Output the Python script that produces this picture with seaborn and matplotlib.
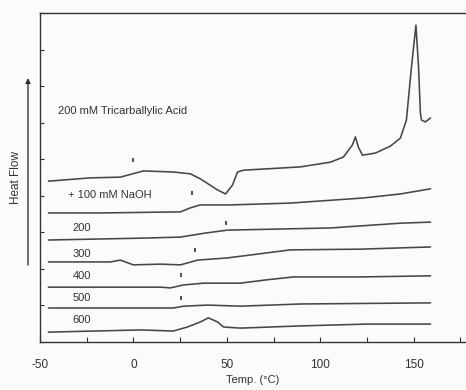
import numpy as np
import pandas as pd
import matplotlib
matplotlib.use("Agg")
import matplotlib.pyplot as plt
import seaborn as sns

# DSC thermograms: temperature (deg C) and stacked heat flow (arbitrary units)
t_acid = [-45.5, -23, -7, 5.4, 21.4, 30.5, 35.9, 45, 49.3, 53, 55.7, 58.9, 89.4,
          105.5, 112.4, 117.2, 118.8, 120.4, 122.6, 129.6, 137.6, 142.9, 146.1,
          148.8, 151.2, 152.6, 153.6, 154.2, 156.3, 159.0]
hf_acid = [4.40, 4.49, 4.51, 4.68, 4.65, 4.60, 4.46, 4.16, 4.05, 4.29, 4.65, 4.70, 4.79,
           4.92, 5.06, 5.39, 5.61, 5.33, 5.11, 5.17, 5.36, 5.58, 6.07,
           7.52, 8.67, 7.52, 6.26, 6.07, 6.02, 6.13]

t_100 = [-45.5, -17.7, 25.2, 30.5, 35.9, 51.9, 84.0, 123.1, 142.9, 159.0]
hf_100 = [3.53, 3.53, 3.56, 3.67, 3.75, 3.75, 3.80, 3.94, 4.05, 4.19]

t_200 = [-45.5, 3.7, 25.2, 38.5, 50.3, 105.5, 142.9, 159.0]
hf_200 = [2.79, 2.84, 2.87, 2.98, 3.06, 3.12, 3.25, 3.28]

t_300 = [-45.5, -12.3, -7.0, 0, 14.5, 25.2, 34.3, 50.3, 62.6, 84.0, 121.5, 159.0]
hf_300 = [2.19, 2.19, 2.24, 2.11, 2.13, 2.11, 2.24, 2.30, 2.38, 2.52, 2.54, 2.60]

t_400 = [-45.5, 14.5, 19.8, 26.8, 37.5, 57.3, 71.2, 85.7, 121.5, 159.0]
hf_400 = [1.50, 1.50, 1.48, 1.56, 1.61, 1.61, 1.70, 1.78, 1.78, 1.81]

t_500 = [-45.5, 21.4, 26.8, 39.6, 57.3, 89.4, 159.0]
hf_500 = [0.93, 0.93, 0.98, 1.01, 0.98, 1.04, 1.07]

t_600 = [-45.5, 3.7, 21.4, 28.9, 35.9, 40.1, 45.0, 48.2, 57.3, 89.4, 124.7, 159.0]
hf_600 = [0.27, 0.33, 0.30, 0.41, 0.55, 0.66, 0.55, 0.41, 0.38, 0.44, 0.49, 0.49]

# Glass-transition marks above each trace
tg_t = [0, 31.6, 49.8, 33.2, 25.7, 25.7]
tg_hf = [4.98, 4.08, 3.25, 2.52, 1.83, 1.20]

# Trace labels
label_text = ["200 mM Tricarballylic Acid", "+ 100 mM NaOH", "200", "300", "400", "500", "600"]
label_t = [-40.1, -34.8, -32.7, -32.7, -32.7, -32.7, -32.7]
label_hf = [6.32, 4.02, 3.12, 2.41, 1.81, 1.20, 0.60]

x_major = [-50, 0, 50, 100, 150]
x_minor = [-25, 25, 75, 125, 175]

sns.set_theme(style="ticks")
plt.rcParams["font.family"] = ["Liberation Sans", "DejaVu Sans"]
plt.rcParams["axes.unicode_minus"] = False

ink = "#333333"
line_c = "#474747"

fig = plt.figure(figsize=(4.66, 3.90), dpi=100, facecolor="#fbfbfa")
ax = fig.add_axes([40 / 466, 48 / 390, 426 / 466, 329 / 390])
ax.set_facecolor("#fbfbfa")

series = [(t_acid, hf_acid), (t_100, hf_100), (t_200, hf_200), (t_300, hf_300),
          (t_400, hf_400), (t_500, hf_500), (t_600, hf_600)]
for t, hf in series:
    df = pd.DataFrame({"T": t, "HF": hf})
    sns.lineplot(data=df, x="T", y="HF", ax=ax, color=line_c, lw=1.15,
                 estimator=None, sort=False)

ax.plot(tg_t, tg_hf, ls="none", marker="|", ms=3.5, mew=1.2, color=ink)

for s, x, y in zip(label_text, label_t, label_hf):
    ax.text(x, y, s, fontsize=8, color=ink, ha="left", va="center")

ax.set_xlim(-50, 178)
ax.set_ylim(0, 9)
ax.set_xticks(x_major)
ax.set_xticks(x_minor, minor=True)
ax.set_yticks(np.arange(0, 10, 1))
ax.set_yticklabels([])
ax.tick_params(axis="x", which="both", direction="in", length=3.5, width=0.8,
               colors=ink, labelsize=8.5, pad=12)
ax.tick_params(axis="y", direction="in", length=3, width=0.8, colors=ink)
ax.set_xlabel("Temp. (°C)", fontsize=8, color=ink, labelpad=3)
ax.set_ylabel("")

ax.spines["right"].set_visible(False)
for side in ["left", "top", "bottom"]:
    ax.spines[side].set_color(ink)
    ax.spines[side].set_linewidth(1.0)

fig.text(16 / 466, 1 - 178 / 390, "Heat Flow", rotation=90, fontsize=8.5,
         color=ink, ha="center", va="center")
ax.annotate("", xy=(28, 312), xytext=(28, 125), xycoords="figure pixels",
            textcoords="figure pixels", annotation_clip=False,
            arrowprops=dict(arrowstyle="-|>", lw=1.0, color=ink, mutation_scale=7,
                            shrinkA=0, shrinkB=0))

fig.savefig("out.png", dpi=100, facecolor=fig.get_facecolor())
